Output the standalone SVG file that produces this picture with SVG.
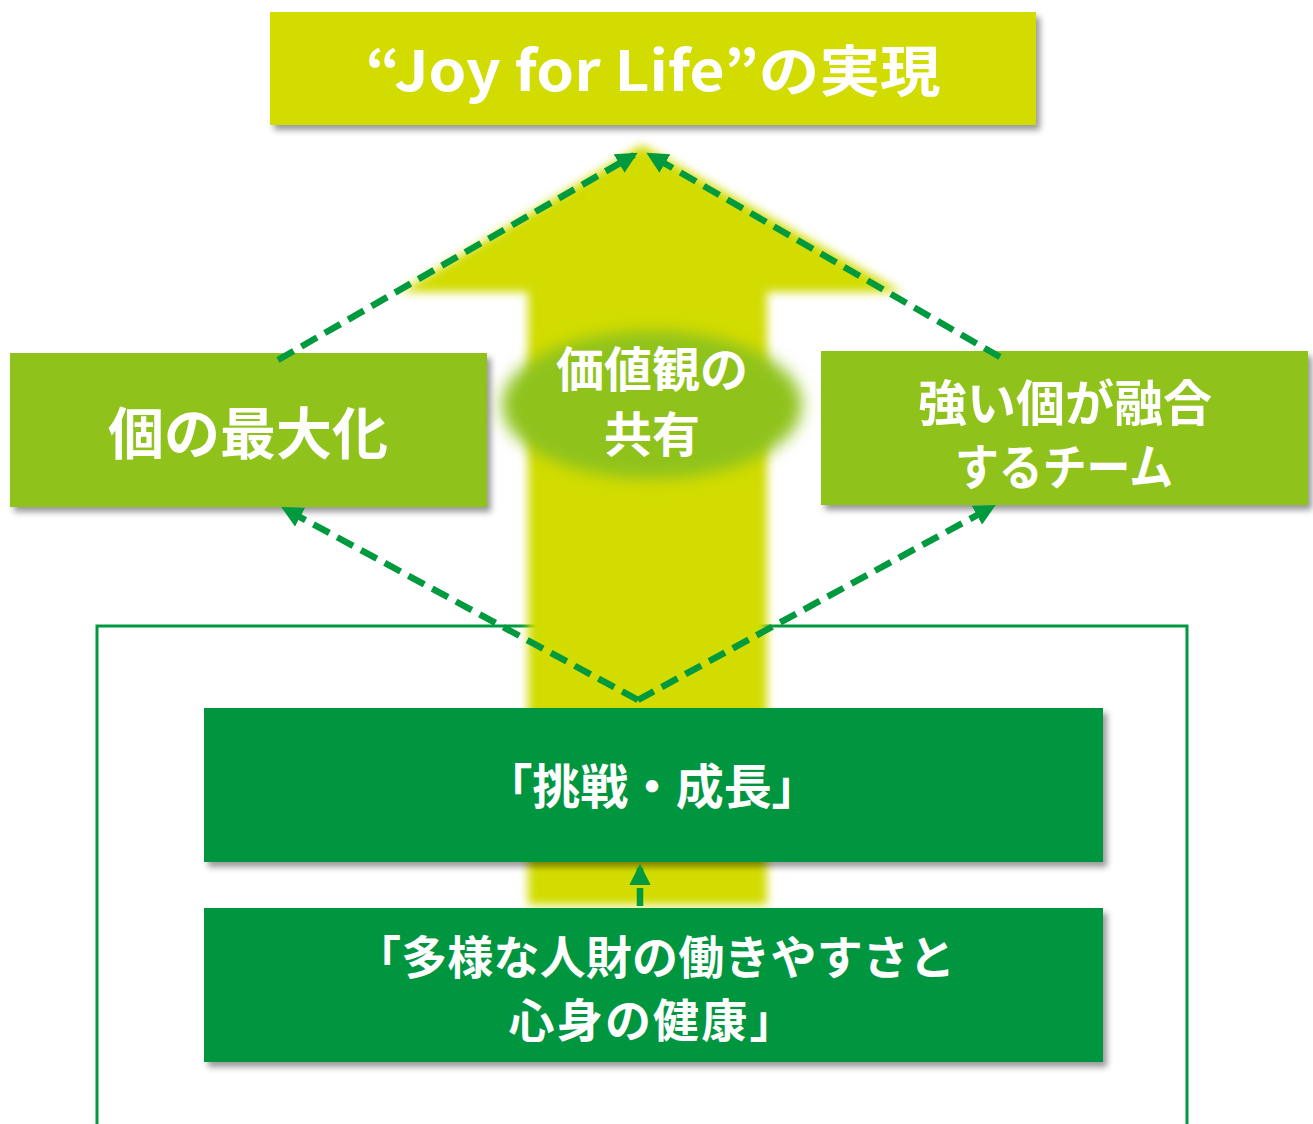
<svg xmlns="http://www.w3.org/2000/svg" width="1313" height="1124" viewBox="0 0 1313 1124">
<style>
.t{font-family:"Noto Sans CJK JP","Noto Sans",sans-serif;font-weight:bold;fill:#fff;text-anchor:middle}
.dash{fill:none;stroke:#009a3e;stroke-width:6.5;stroke-dasharray:18 9}
</style>
<defs>
<filter id="sh" x="-5%" y="-10%" width="112%" height="125%">
<feDropShadow dx="4" dy="5" stdDeviation="3" flood-color="#000" flood-opacity="0.4"/>
</filter>
<filter id="blur" x="-10%" y="-10%" width="120%" height="120%">
<feGaussianBlur stdDeviation="5"/>
</filter>
<filter id="blur2" x="-30%" y="-30%" width="160%" height="160%">
<feGaussianBlur stdDeviation="8"/>
</filter>
<marker id="ah" viewBox="0 0 10 10" refX="8" refY="5" markerWidth="3.3" markerHeight="3.3" orient="auto" markerUnits="strokeWidth">
<path d="M0,0 L10,5 L0,10 z" fill="#009a3e"/>
</marker>
</defs>
<rect width="1313" height="1124" fill="#fff"/>
<g id="frame">
<path d="M97,1124 V626 H1187 V1124" fill="none" stroke="#009a3e" stroke-width="3"/>
</g>
<g id="big-arrow">
<path d="M528,905 V292 H400 L642,145 L902,292 H767 V905 Z" fill="#d2dc00" filter="url(#blur)"/>
</g>
<g id="values">
<ellipse cx="652" cy="405" rx="150" ry="74" fill="#8fc31f" filter="url(#blur2)"/>
<text class="t" x="652" y="387" font-size="48">価値観の</text>
<text class="t" x="652" y="452" font-size="48">共有</text>
</g>
<g id="joy">
<rect x="270" y="12" width="766" height="113" fill="#d2dc00" filter="url(#sh)"/>
<text class="t" x="653" y="91" font-size="55" textLength="575" lengthAdjust="spacingAndGlyphs">“Joy for Life”の実現</text>
</g>
<g id="individual">
<rect x="10" y="353" width="477" height="154" fill="#8fc31f" filter="url(#sh)"/>
<text class="t" x="248" y="454" font-size="56">個の最大化</text>
</g>
<g id="team">
<rect x="821" y="351" width="487" height="154" fill="#8fc31f" filter="url(#sh)"/>
<text class="t" x="1065" y="421" font-size="49">強い個が融合</text>
<text class="t" x="1064" y="485" font-size="49" textLength="218" lengthAdjust="spacingAndGlyphs">するチーム</text>
</g>
<g id="challenge">
<rect x="204" y="708" width="899" height="154" fill="#009640" filter="url(#sh)"/>
<text class="t" x="652" y="804" font-size="48" textLength="335" lengthAdjust="spacing">「挑戦・成長」</text>
</g>
<g id="diversity">
<rect x="204" y="908" width="899" height="154" fill="#009640" filter="url(#sh)"/>
<text class="t" x="655" y="974" font-size="46" textLength="600" lengthAdjust="spacing">「多様な人財の働きやすさと</text>
<text class="t" x="652" y="1037" font-size="46" textLength="287" lengthAdjust="spacing">心身の健康」</text>
</g>
<g id="connectors">
<path class="dash" d="M278,360 L634,155" marker-end="url(#ah)"/>
<path class="dash" d="M1000,357 L650,155" marker-end="url(#ah)"/>
<path class="dash" d="M638,700 L285,509" marker-end="url(#ah)"/>
<path class="dash" d="M638,700 L992,507" marker-end="url(#ah)"/>
<path class="dash" d="M640,906 L640,868" stroke-width="4" stroke-dasharray="9 6" marker-end="url(#ah)"/>
</g>
</svg>
